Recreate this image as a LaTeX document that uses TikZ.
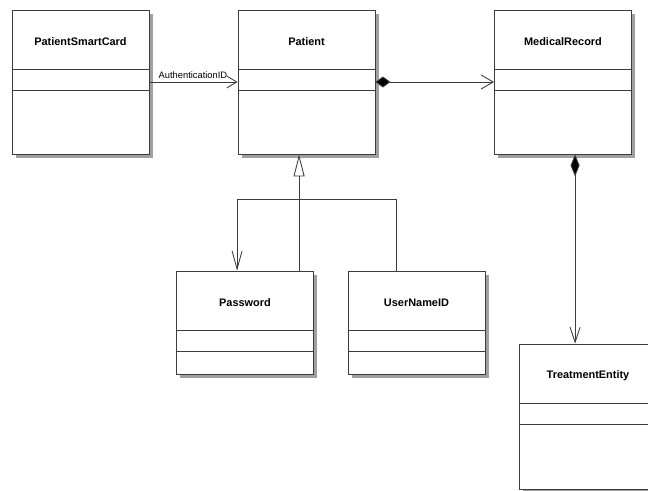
\documentclass[tikz,border=0pt]{standalone}
\usepackage{fontspec}
\setmainfont{Liberation Sans}
\usetikzlibrary{arrows.meta,calc,shadows}

\definecolor{lineGray}{HTML}{3C3C3C}
\definecolor{shadowGray}{HTML}{A0A0A0}
\def\px{0.75pt}

\begin{document}
\begin{tikzpicture}[x=\px, y=-\px,
    umlclass/.style={draw=lineGray, fill=white, line width=0.65pt,
      minimum width=137*\px, inner sep=0pt,
      drop shadow={shadow xshift=2.8pt, shadow yshift=-2.8pt, fill=shadowGray, opacity=1}},
    classname/.style={font=\bfseries\fontsize{8.2}{10}\selectfont, inner sep=0pt},
    conn/.style={draw=lineGray, line width=0.65pt},
    openhead/.style={-{Straight Barb[length=10*\px, width=12*\px]}}]
      \useasboundingbox (0,0) rectangle (648,491);
      % classes
      \node[umlclass, minimum height=144*\px] (psc) at (80.5,82) {};
      \node[umlclass, minimum height=144*\px] (pat) at (306.5,82) {};
      \node[umlclass, minimum height=144*\px] (mr) at (563,82) {};
      \node[umlclass, minimum height=103*\px] (pw) at (245,322.5) {};
      \node[umlclass, minimum height=103*\px] (un) at (416.5,322.5) {};
      \node[umlclass, minimum height=145*\px] (te) at (588,416.5) {};
      \foreach \n in {psc,pat,mr,pw,un,te} {
          \draw[conn] ($(\n.north west)+(0,60)$) -- ($(\n.north east)+(0,60)$);
          \draw[conn] ($(\n.north west)+(0,81)$) -- ($(\n.north east)+(0,81)$);
      }
      \node[classname] (psc-name) at ($(psc.north)+(0,32)$) {PatientSmartCard};
      \node[classname] (pat-name) at ($(pat.north)+(0,32)$) {Patient};
      \node[classname] (mr-name) at ($(mr.north)+(0,32)$) {MedicalRecord};
      \node[classname] (pw-name) at ($(pw.north)+(0,32)$) {Password};
      \node[classname] (un-name) at ($(un.north)+(0,32)$) {UserNameID};
      \node[classname] (te-name) at ($(te.north)+(0,32)$) {TreatmentEntity};
      % associations
      \draw[conn, openhead] (psc.east) -- (pat.west);
      \node[anchor=south west, inner sep=0pt, font=\fontsize{7}{8}\selectfont]
          (auth) at ($(psc.east)+(9,-3)$) {AuthenticationID};
      \draw[conn, {Diamond[length=15*\px, width=11*\px, fill=black]}-{Straight Barb[length=12*\px, width=14*\px]}]
          (pat.east) -- (mr.west);
      \coordinate (mrte) at ($(te.north west)+(56,0)$);
      \draw[conn, {Diamond[length=22*\px, width=9*\px, fill=black]}-{Straight Barb[length=15*\px, width=10*\px]}]
          (mrte |- mr.south) -- (mrte);
      % generalization
      \coordinate (pwup) at ($(pw.north west)+(123,0)$);
      \draw[conn, -{Triangle[open, length=22*\px, width=11*\px, fill=white]}]
          (pwup) -- (pwup |- pat.south);
      \coordinate (unup) at ($(un.north west)+(49,0)$);
      \coordinate (pwin) at ($(pw.north west)+(61,0)$);
      \draw[conn, -{Straight Barb[length=18*\px, width=10*\px]}]
          (unup) -- ++(0,-71) -| (pwin);
    \end{tikzpicture}
\end{document}
